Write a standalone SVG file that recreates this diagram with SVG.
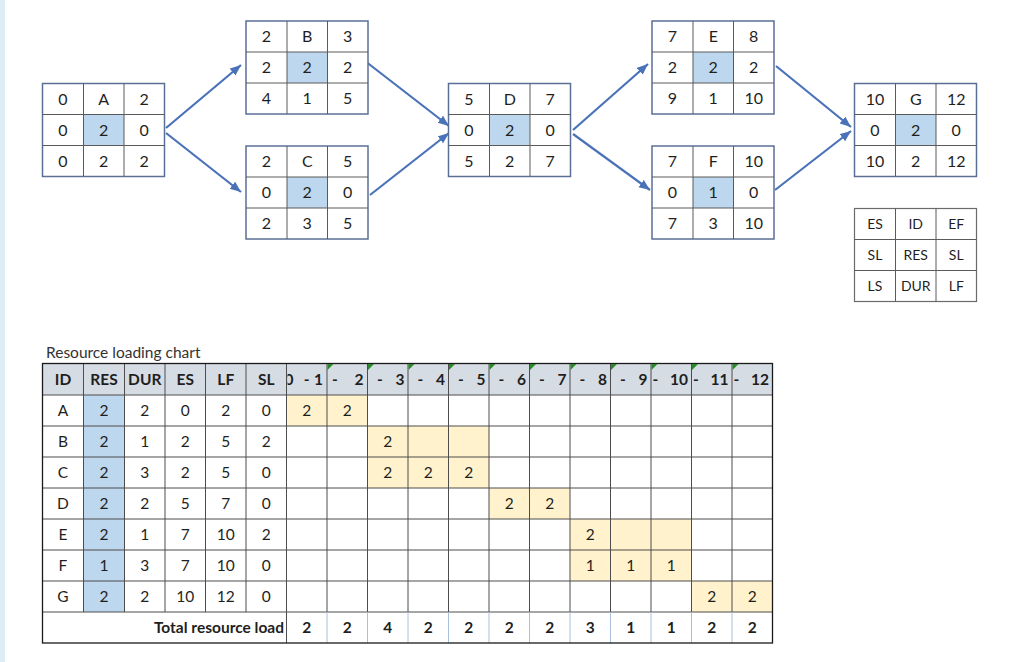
<svg xmlns="http://www.w3.org/2000/svg" width="1014" height="662" viewBox="0 0 1014 662">
<defs>
<style>
text{font-family:Lato,"Liberation Sans",sans-serif;fill:#1f1f1f;text-anchor:middle}
.nt{font-size:16px}
.lt{font-size:14px}
.tt{font-size:15.5px}
.b{font-weight:bold}
.ob{fill:#fff;stroke:#5b6f96;stroke-width:1.5}
.il{stroke:#5a5a5a;stroke-width:1;fill:none}
.hl{fill:#bdd7ee}
.yl{fill:#fff2cc}
.gl{stroke:#4d4d4d;stroke-width:1}
.tl{stroke:#a9c0dc;stroke-width:1}
.ar{stroke:#4a72b8;stroke-width:2.2;fill:none;marker-end:url(#ah)}
.gt{fill:#2a8a2a}
</style>
<marker id="ah" markerUnits="userSpaceOnUse" markerWidth="12" markerHeight="10" refX="11" refY="4.5" orient="auto">
<path d="M0,0 L11,4.5 L0,9 z" fill="#4a72b8"/>
</marker>
<clipPath id="c1"><rect x="287.5" y="364" width="39" height="31"/></clipPath>
</defs>
<rect x="0" y="0" width="1014" height="662" fill="#fff"/>
<rect x="0" y="0" width="5" height="662" fill="#dcEEF4"/>

<g id="connectors">
<line class="ar" x1="166" y1="128" x2="241" y2="65"/>
<line class="ar" x1="166" y1="133" x2="241" y2="192"/>
<line class="ar" x1="365" y1="61" x2="449" y2="126"/>
<line class="ar" x1="370" y1="195" x2="449" y2="133"/>
<line class="ar" x1="573" y1="130" x2="648" y2="64"/>
<line class="ar" x1="573" y1="134" x2="650" y2="190"/>
<line class="ar" x1="776" y1="66" x2="851" y2="127"/>
<line class="ar" x1="775" y1="190" x2="851" y2="131"/>
</g>

<g id="node-A" transform="translate(42.5,83.5)">
<rect class="ob" x="0" y="0" width="122" height="93"/>
<rect class="hl" x="41" y="31" width="40.5" height="31"/>
<path class="il" d="M41,0V93M81.5,0V93M0,31H122M0,62H122"/>
<text class="nt" x="20.5" y="21">0</text><text class="nt" x="61.25" y="21">A</text><text class="nt" x="101.75" y="21">2</text>
<text class="nt" x="20.5" y="52">0</text><text class="nt" x="61.25" y="52">2</text><text class="nt" x="101.75" y="52">0</text>
<text class="nt" x="20.5" y="83">0</text><text class="nt" x="61.25" y="83">2</text><text class="nt" x="101.75" y="83">2</text>
</g>
<g id="node-B" transform="translate(246,21)">
<rect class="ob" x="0" y="0" width="122" height="93"/>
<rect class="hl" x="41" y="31" width="40.5" height="31"/>
<path class="il" d="M41,0V93M81.5,0V93M0,31H122M0,62H122"/>
<text class="nt" x="20.5" y="21">2</text><text class="nt" x="61.25" y="21">B</text><text class="nt" x="101.75" y="21">3</text>
<text class="nt" x="20.5" y="52">2</text><text class="nt" x="61.25" y="52">2</text><text class="nt" x="101.75" y="52">2</text>
<text class="nt" x="20.5" y="83">4</text><text class="nt" x="61.25" y="83">1</text><text class="nt" x="101.75" y="83">5</text>
</g>
<g id="node-C" transform="translate(246,146)">
<rect class="ob" x="0" y="0" width="122" height="93"/>
<rect class="hl" x="41" y="31" width="40.5" height="31"/>
<path class="il" d="M41,0V93M81.5,0V93M0,31H122M0,62H122"/>
<text class="nt" x="20.5" y="21">2</text><text class="nt" x="61.25" y="21">C</text><text class="nt" x="101.75" y="21">5</text>
<text class="nt" x="20.5" y="52">0</text><text class="nt" x="61.25" y="52">2</text><text class="nt" x="101.75" y="52">0</text>
<text class="nt" x="20.5" y="83">2</text><text class="nt" x="61.25" y="83">3</text><text class="nt" x="101.75" y="83">5</text>
</g>
<g id="node-D" transform="translate(448.5,83.5)">
<rect class="ob" x="0" y="0" width="122" height="93"/>
<rect class="hl" x="41" y="31" width="40.5" height="31"/>
<path class="il" d="M41,0V93M81.5,0V93M0,31H122M0,62H122"/>
<text class="nt" x="20.5" y="21">5</text><text class="nt" x="61.25" y="21">D</text><text class="nt" x="101.75" y="21">7</text>
<text class="nt" x="20.5" y="52">0</text><text class="nt" x="61.25" y="52">2</text><text class="nt" x="101.75" y="52">0</text>
<text class="nt" x="20.5" y="83">5</text><text class="nt" x="61.25" y="83">2</text><text class="nt" x="101.75" y="83">7</text>
</g>
<g id="node-E" transform="translate(652,21)">
<rect class="ob" x="0" y="0" width="122" height="93"/>
<rect class="hl" x="41" y="31" width="40.5" height="31"/>
<path class="il" d="M41,0V93M81.5,0V93M0,31H122M0,62H122"/>
<text class="nt" x="20.5" y="21">7</text><text class="nt" x="61.25" y="21">E</text><text class="nt" x="101.75" y="21">8</text>
<text class="nt" x="20.5" y="52">2</text><text class="nt" x="61.25" y="52">2</text><text class="nt" x="101.75" y="52">2</text>
<text class="nt" x="20.5" y="83">9</text><text class="nt" x="61.25" y="83">1</text><text class="nt" x="101.75" y="83">10</text>
</g>
<g id="node-F" transform="translate(652,146)">
<rect class="ob" x="0" y="0" width="122" height="93"/>
<rect class="hl" x="41" y="31" width="40.5" height="31"/>
<path class="il" d="M41,0V93M81.5,0V93M0,31H122M0,62H122"/>
<text class="nt" x="20.5" y="21">7</text><text class="nt" x="61.25" y="21">F</text><text class="nt" x="101.75" y="21">10</text>
<text class="nt" x="20.5" y="52">0</text><text class="nt" x="61.25" y="52">1</text><text class="nt" x="101.75" y="52">0</text>
<text class="nt" x="20.5" y="83">7</text><text class="nt" x="61.25" y="83">3</text><text class="nt" x="101.75" y="83">10</text>
</g>
<g id="node-G" transform="translate(854.5,83.5)">
<rect class="ob" x="0" y="0" width="122" height="93"/>
<rect class="hl" x="41" y="31" width="40.5" height="31"/>
<path class="il" d="M41,0V93M81.5,0V93M0,31H122M0,62H122"/>
<text class="nt" x="20.5" y="21">10</text><text class="nt" x="61.25" y="21">G</text><text class="nt" x="101.75" y="21">12</text>
<text class="nt" x="20.5" y="52">0</text><text class="nt" x="61.25" y="52">2</text><text class="nt" x="101.75" y="52">0</text>
<text class="nt" x="20.5" y="83">10</text><text class="nt" x="61.25" y="83">2</text><text class="nt" x="101.75" y="83">12</text>
</g>
<g id="legend" transform="translate(854.5,208.5)">
<rect x="0" y="0" width="122" height="93" fill="#fff" stroke="#6b6b6b" stroke-width="1.2"/>
<path class="il" d="M41,0V93M81.5,0V93M0,31H122M0,62H122"/>
<text class="lt" x="20.5" y="20.5">ES</text><text class="lt" x="61.25" y="20.5">ID</text><text class="lt" x="101.75" y="20.5">EF</text>
<text class="lt" x="20.5" y="51.5">SL</text><text class="lt" x="61.25" y="51.5">RES</text><text class="lt" x="101.75" y="51.5">SL</text>
<text class="lt" x="20.5" y="82.5">LS</text><text class="lt" x="61.25" y="82.5">DUR</text><text class="lt" x="101.75" y="82.5">LF</text>
</g>

<g id="resource-chart">
<text x="46" y="358" style="text-anchor:start;fill:#333;font-size:15.5px">Resource loading chart</text>
<rect x="42.5" y="363.5" width="730" height="31.5" fill="#d6dce4"/>
<rect class="hl" x="83.5" y="395" width="41" height="217"/>
<rect class="yl" x="286.5" y="395" width="81" height="31"/>
<rect class="yl" x="367.5" y="426" width="121.5" height="62"/>
<rect class="yl" x="489" y="488" width="81" height="31"/>
<rect class="yl" x="570" y="519" width="121.5" height="62"/>
<rect class="yl" x="691.5" y="581" width="81" height="31"/>
<path class="gl" d="M42.5,395H772.5M42.5,426H772.5M42.5,457H772.5M42.5,488H772.5M42.5,519H772.5M42.5,550H772.5M42.5,581H772.5M42.5,612H772.5"/>
<path class="gl" d="M83.5,363.5V612M124.5,363.5V612M165,363.5V612M205.5,363.5V612M246,363.5V612M286.5,363.5V643M327,363.5V612M367.5,363.5V612M408,363.5V612M448.5,363.5V612M489,363.5V612M529.5,363.5V612M570,363.5V612M610.5,363.5V612M651,363.5V612M691.5,363.5V612M732,363.5V612"/>
<path class="tl" d="M327,612V643M367.5,612V643M408,612V643M448.5,612V643M489,612V643M529.5,612V643M570,612V643M610.5,612V643M651,612V643M691.5,612V643M732,612V643"/>
<rect x="42.5" y="363.5" width="730" height="279.5" fill="none" stroke="#1a1a1a" stroke-width="1.3"/>
<path class="gt" d="M327.5,364h6l-6,6z M368,364h6l-6,6z M408.5,364h6l-6,6z M449,364h6l-6,6z M489.5,364h6l-6,6z M530,364h6l-6,6z M570.5,364h6l-6,6z M611,364h6l-6,6z M651.5,364h6l-6,6z M692,364h6l-6,6z M732.5,364h6l-6,6z"/>
<g class="tt b">
<text x="63" y="384.5">ID</text><text x="104" y="384.5">RES</text><text x="144.75" y="384.5">DUR</text><text x="185.25" y="384.5">ES</text><text x="225.75" y="384.5">LF</text><text x="266.25" y="384.5">SL</text>
<text x="289" y="384.5" clip-path="url(#c1)">0</text>
<text x="306.7" y="384.5">-</text><text x="323" y="384.5" style="text-anchor:end">1</text>
<text x="335" y="384.5">-</text><text x="363.5" y="384.5" style="text-anchor:end">2</text>
<text x="380" y="384.5">-</text><text x="404.5" y="384.5" style="text-anchor:end">3</text>
<text x="420.5" y="384.5">-</text><text x="445" y="384.5" style="text-anchor:end">4</text>
<text x="461" y="384.5">-</text><text x="485.5" y="384.5" style="text-anchor:end">5</text>
<text x="501.5" y="384.5">-</text><text x="526" y="384.5" style="text-anchor:end">6</text>
<text x="542" y="384.5">-</text><text x="566.5" y="384.5" style="text-anchor:end">7</text>
<text x="582.5" y="384.5">-</text><text x="607" y="384.5" style="text-anchor:end">8</text>
<text x="623" y="384.5">-</text><text x="647.5" y="384.5" style="text-anchor:end">9</text>
<text x="655.5" y="384.5">-</text><text x="688" y="384.5" style="text-anchor:end">10</text>
<text x="696" y="384.5">-</text><text x="728.5" y="384.5" style="text-anchor:end">11</text>
<text x="736.5" y="384.5">-</text><text x="769" y="384.5" style="text-anchor:end">12</text>
</g>
<g class="tt">
<text x="63" y="416">A</text><text x="104" y="416">2</text><text x="144.75" y="416">2</text><text x="185.25" y="416">0</text><text x="225.75" y="416">2</text><text x="266.25" y="416">0</text>
<text x="306.75" y="416">2</text><text x="347.25" y="416">2</text>
<text x="63" y="447">B</text><text x="104" y="447">2</text><text x="144.75" y="447">1</text><text x="185.25" y="447">2</text><text x="225.75" y="447">5</text><text x="266.25" y="447">2</text>
<text x="387.75" y="447">2</text>
<text x="63" y="478">C</text><text x="104" y="478">2</text><text x="144.75" y="478">3</text><text x="185.25" y="478">2</text><text x="225.75" y="478">5</text><text x="266.25" y="478">0</text>
<text x="387.75" y="478">2</text><text x="428.25" y="478">2</text><text x="468.75" y="478">2</text>
<text x="63" y="509">D</text><text x="104" y="509">2</text><text x="144.75" y="509">2</text><text x="185.25" y="509">5</text><text x="225.75" y="509">7</text><text x="266.25" y="509">0</text>
<text x="509.25" y="509">2</text><text x="549.75" y="509">2</text>
<text x="63" y="540">E</text><text x="104" y="540">2</text><text x="144.75" y="540">1</text><text x="185.25" y="540">7</text><text x="225.75" y="540">10</text><text x="266.25" y="540">2</text>
<text x="590.25" y="540">2</text>
<text x="63" y="571">F</text><text x="104" y="571">1</text><text x="144.75" y="571">3</text><text x="185.25" y="571">7</text><text x="225.75" y="571">10</text><text x="266.25" y="571">0</text>
<text x="590.25" y="571">1</text><text x="630.75" y="571">1</text><text x="671.25" y="571">1</text>
<text x="63" y="602">G</text><text x="104" y="602">2</text><text x="144.75" y="602">2</text><text x="185.25" y="602">10</text><text x="225.75" y="602">12</text><text x="266.25" y="602">0</text>
<text x="711.75" y="602">2</text><text x="752.25" y="602">2</text>
</g>
<g class="tt b">
<text x="284" y="633" style="text-anchor:end">Total resource load</text>
<text x="306.75" y="633">2</text><text x="347.25" y="633">2</text><text x="387.75" y="633">4</text><text x="428.25" y="633">2</text><text x="468.75" y="633">2</text><text x="509.25" y="633">2</text><text x="549.75" y="633">2</text><text x="590.25" y="633">3</text><text x="630.75" y="633">1</text><text x="671.25" y="633">1</text><text x="711.75" y="633">2</text><text x="752.25" y="633">2</text>
</g>
</g>
</svg>
